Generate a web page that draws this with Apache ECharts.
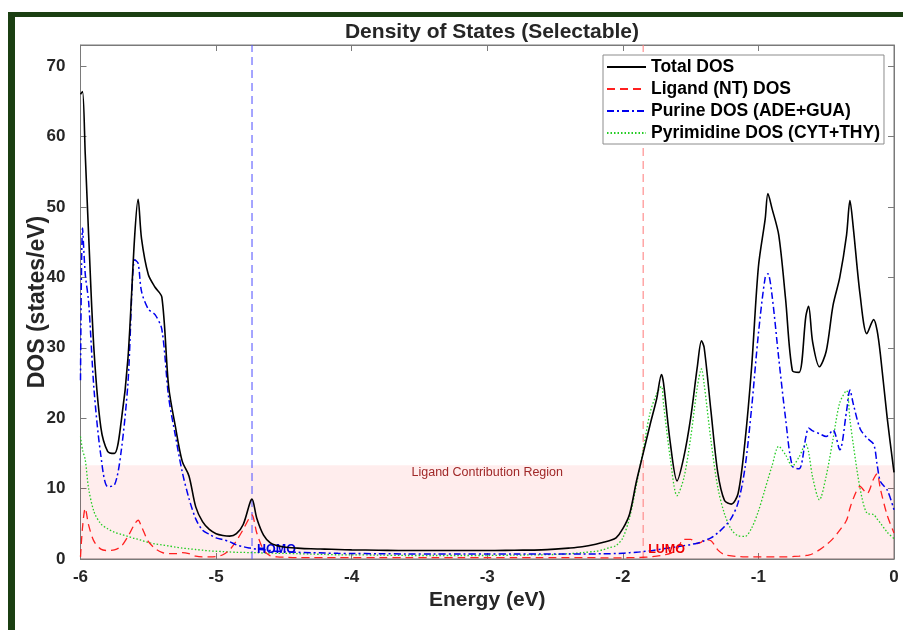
<!DOCTYPE html>
<html>
<head>
<meta charset="utf-8">
<script src="https://cdn.jsdelivr.net/npm/echarts@6/dist/echarts.min.js"></script>
<style>
  html, body { margin: 0; padding: 0; background: #ffffff; }
  #chart { width: 903px; height: 630px; }
</style>
</head>
<body>
<div id="chart"></div>
<script>
// Energy grid (eV) shared by all DOS curves
const energy = [
  -6.00, -5.985, -5.965, -5.94, -5.90, -5.85, -5.80, -5.75, -5.70, -5.65,
  -5.60, -5.575, -5.55, -5.50, -5.45, -5.40, -5.35, -5.30, -5.25, -5.20,
  -5.15, -5.10, -5.05, -5.00, -4.95, -4.90, -4.85, -4.80, -4.75, -4.735,
  -4.70, -4.65, -4.60, -4.55, -4.50, -4.40, -4.30, -4.20, -4.10, -4.00,
  -3.80, -3.60, -3.40, -3.20, -3.00, -2.80, -2.60, -2.50, -2.40, -2.30,
  -2.20, -2.15, -2.10, -2.05, -2.00, -1.95, -1.90, -1.85, -1.80, -1.75,
  -1.715, -1.70, -1.65, -1.60, -1.55, -1.50, -1.45, -1.42, -1.40, -1.35,
  -1.30, -1.25, -1.20, -1.15, -1.10, -1.05, -1.00, -0.95, -0.93, -0.90,
  -0.85, -0.80, -0.75, -0.70, -0.65, -0.63, -0.60, -0.55, -0.50, -0.45,
  -0.40, -0.35, -0.325, -0.30, -0.25, -0.20, -0.15, -0.125, -0.10, -0.05,
  0.00
];

// Total DOS (states/eV)
const totalDos = [
  66.0, 66.4, 57.5, 46.0, 29.5, 18.7, 15.3, 15.0, 19.5, 28.5,
  46.0, 51.1, 45.5, 40.4, 38.6, 37.2, 24.5, 18.8, 13.9, 11.8,
  7.4, 5.3, 4.2, 3.6, 3.35, 3.25, 3.6, 4.9, 8.0, 8.5,
  5.8, 3.4, 2.3, 1.9, 1.7, 1.55, 1.45, 1.4, 1.35, 1.3,
  1.25, 1.2, 1.2, 1.2, 1.2, 1.25, 1.3, 1.4, 1.55, 1.75,
  2.1, 2.35, 2.6, 3.0, 4.3, 6.4, 11.0, 15.0, 19.0, 22.8,
  26.2, 25.0, 16.5, 11.1, 14.5, 20.0, 27.4, 31.0, 30.0, 21.0,
  12.3, 8.3, 7.8, 9.3, 16.5, 27.3, 41.5, 48.3, 51.9, 49.8,
  46.0, 37.0, 26.8, 26.5, 34.5, 35.9, 30.8, 27.3, 29.5, 36.0,
  40.0, 46.0, 50.9, 47.0, 37.5, 32.0, 34.0, 32.5, 29.0, 20.0,
  12.3
];

// Ligand (NT) projected DOS
const ligandDos = [
  0.3, 4.5, 7.2, 4.8, 2.5, 1.4, 1.2, 1.3, 1.8, 3.2,
  5.0, 5.5, 4.6, 2.5, 1.5, 0.95, 0.75, 0.75, 0.9, 0.75,
  0.4, 0.3, 0.3, 0.35, 0.6, 1.3, 2.6, 4.2, 6.0, 6.25,
  3.7, 1.3, 0.45, 0.3, 0.25, 0.2, 0.2, 0.2, 0.2, 0.2,
  0.2, 0.2, 0.2, 0.2, 0.2, 0.2, 0.2, 0.2, 0.2, 0.2,
  0.2, 0.15, 0.15, 0.15, 0.15, 0.2, 0.2, 0.25, 0.3, 0.4,
  0.5, 0.55, 0.8, 1.4, 2.8, 2.8, 2.2, 2.4, 2.75, 2.6,
  1.3, 0.6, 0.45, 0.35, 0.3, 0.3, 0.3, 0.3, 0.3, 0.3,
  0.3, 0.3, 0.35, 0.4, 0.5, 0.55, 0.75, 1.3, 2.0, 2.9,
  4.1, 5.5, 7.2, 8.6, 10.3, 9.3, 11.4, 12.1, 9.9, 6.2,
  3.7
];

// Purine (ADE+GUA) projected DOS
const purineDos = [
  25.4, 47.0, 40.5, 36.5, 24.0, 14.7, 10.3, 10.5, 15.3, 25.0,
  42.5, 42.0, 38.0, 35.5, 34.7, 32.6, 23.0, 17.5, 12.4, 8.6,
  5.7, 4.1, 3.5, 3.0, 2.75, 2.45, 2.0, 1.75, 1.55, 1.5,
  1.4, 1.3, 1.2, 1.1, 1.05, 0.95, 0.9, 0.85, 0.8, 0.78,
  0.75, 0.72, 0.7, 0.7, 0.7, 0.7, 0.7, 0.7, 0.7, 0.7,
  0.72, 0.75, 0.75, 0.78, 0.8, 0.9, 0.95, 1.05, 1.15, 1.3,
  1.4, 1.45, 1.6, 1.75, 1.9, 2.05, 2.25, 2.4, 2.6, 3.0,
  3.7, 4.6, 5.8, 8.0, 12.8, 21.5, 32.0, 40.0, 40.5, 37.5,
  28.5, 20.0, 13.2, 12.8, 17.3, 18.6, 18.2, 17.8, 17.4, 18.3,
  15.5, 21.0, 24.0, 22.0, 18.5, 17.2, 16.3, 13.5, 11.0, 9.8,
  7.0
];

// Pyrimidine (CYT+THY) projected DOS
const pyrimidineDos = [
  17.4, 15.5, 14.1, 10.0, 6.7, 5.0, 4.3, 3.8, 3.5, 3.2,
  2.9, 2.8, 2.65, 2.35, 2.15, 2.0, 1.85, 1.7, 1.55, 1.45,
  1.35, 1.25, 1.15, 1.1, 1.05, 1.0, 0.95, 0.95, 0.9, 0.9,
  0.9, 0.85, 0.85, 0.8, 0.8, 0.75, 0.7, 0.65, 0.6, 0.6,
  0.55, 0.5, 0.5, 0.5, 0.5, 0.55, 0.6, 0.65, 0.75, 0.9,
  1.1, 1.3, 1.6, 1.9, 3.0, 5.9, 10.5, 15.5, 20.7, 23.5,
  24.5, 22.0, 14.3, 9.0, 11.5, 17.2, 24.5, 27.0, 24.8, 16.8,
  10.2, 6.4, 4.2, 3.3, 3.2, 4.4, 6.8, 10.0, 11.3, 13.2,
  16.0, 14.8, 13.2, 14.5, 16.3, 15.2, 11.6, 8.4, 11.8, 17.0,
  22.2, 23.9, 19.8, 16.2, 10.0, 6.5, 6.3, 5.7, 5.1, 3.8,
  2.9
];

const homoEnergy = -4.735;
const lumoEnergy = -1.85;
const ligandBandTop = 13.3;
const xRange = [-6, 0];
const yRange = [0, 73];

const seriesNames = [
  'Total DOS',
  'Ligand (NT) DOS',
  'Purine DOS (ADE+GUA)',
  'Pyrimidine DOS (CYT+THY)'
];

const FONT = "'Liberation Sans', Arial, Helvetica, sans-serif";

function toPairs(values) {
  return energy.map((e, i) => [e, values[i]]);
}

function curve(name, values, color, width, dash, z) {
  return {
    name: name,
    type: 'line',
    data: toPairs(values),
    showSymbol: false,
    symbol: 'none',
    smooth: 0.3,
    z: z,
    lineStyle: { color: color, width: width, type: dash },
    itemStyle: { color: color },
    emphasis: { disabled: true }
  };
}

// vertical dashed marker at a band edge, spanning the full y range,
// with its bold tag placed just right of the line near the baseline
function edgeMarker(energyValue, lineColor, tag, tagColor) {
  return {
    name: tag,
    type: 'line',
    data: [[energyValue, yRange[0]], [energyValue, yRange[1]]],
    showSymbol: false,
    symbol: 'none',
    z: 2,
    silent: true,
    emphasis: { disabled: true },
    lineStyle: { color: lineColor, width: 1.1, type: [8, 5] },
    itemStyle: { color: lineColor },
    markPoint: {
      silent: true,
      symbol: 'circle',
      symbolSize: 0,
      data: [{
        coord: [energyValue, 1.4],
        label: {
          show: true, position: 'right', distance: 5, formatter: tag,
          fontFamily: FONT, fontWeight: 'bold', fontSize: 12.5, color: tagColor
        }
      }]
    }
  };
}

const chart = echarts.init(document.getElementById('chart'), null, { renderer: 'canvas' });

const axisGray = '#7a7a7a';
const labelColor = '#262626';

chart.setOption({
  animation: false,
  backgroundColor: '#ffffff',
  title: {
    text: 'Density of States (Selectable)',
    left: 487,
    top: 17,
    textAlign: 'center',
    textStyle: { fontFamily: FONT, fontWeight: 'bold', fontSize: 21, color: labelColor }
  },
  graphic: [
    { type: 'rect', shape: { x: 8, y: 12, width: 895, height: 5 }, style: { fill: '#1b3f12' }, z: 100 },
    { type: 'rect', shape: { x: 8, y: 12, width: 7, height: 618 }, style: { fill: '#1b3f12' }, z: 100 }
  ],
  legend: {
    data: seriesNames,
    orient: 'vertical',
    left: 603,
    top: 55,
    itemWidth: 39,
    itemHeight: 14,
    itemGap: 4,
    padding: [3, 4, 2, 3],
    backgroundColor: '#ffffff',
    borderColor: '#8c8c8c',
    borderWidth: 1,
    borderRadius: 0,
    itemStyle: { opacity: 0 },
    textStyle: { fontFamily: FONT, fontWeight: 'bold', fontSize: 17.5, color: '#000000', lineHeight: 17 },
    selectedMode: false
  },
  grid: {
    left: 80.5,
    right: 9,
    top: 45,
    bottom: 71,
    show: true,
    borderColor: axisGray,
    borderWidth: 1,
    backgroundColor: 'transparent'
  },
  xAxis: [
    {
      type: 'value',
      min: xRange[0],
      max: xRange[1],
      interval: 1,
      name: 'Energy (eV)',
      nameLocation: 'middle',
      nameGap: 31,
      nameMoveOverlap: false,
      nameTextStyle: { fontFamily: FONT, fontWeight: 'bold', fontSize: 21, color: labelColor },
      axisLine: { show: true, onZero: false, lineStyle: { color: axisGray, width: 1 } },
      axisTick: { show: true, inside: true, length: 6, lineStyle: { color: axisGray } },
      axisLabel: { fontFamily: FONT, fontWeight: 'bold', fontSize: 17, color: labelColor, margin: 10 },
      splitLine: { show: false }
    },
    {
      type: 'value',
      position: 'top',
      min: xRange[0],
      max: xRange[1],
      interval: 1,
      axisLine: { show: true, onZero: false, lineStyle: { color: axisGray, width: 1 } },
      axisTick: { show: true, inside: true, length: 6, lineStyle: { color: axisGray } },
      axisLabel: { show: false },
      splitLine: { show: false }
    }
  ],
  yAxis: [
    {
      type: 'value',
      min: yRange[0],
      max: yRange[1],
      interval: 10,
      name: 'DOS (states/eV)',
      nameLocation: 'middle',
      nameGap: 31,
      nameMoveOverlap: false,
      nameTextStyle: { fontFamily: FONT, fontWeight: 'bold', fontSize: 23, color: labelColor },
      axisLine: { show: true, onZero: false, lineStyle: { color: axisGray, width: 1 } },
      axisTick: { show: true, inside: true, length: 6, lineStyle: { color: axisGray } },
      axisLabel: {
        fontFamily: FONT, fontWeight: 'bold', fontSize: 17, color: labelColor, margin: 15,
        showMaxLabel: false,
        formatter: v => (v % 10 === 0 ? String(v) : '')
      },
      splitLine: { show: false }
    },
    {
      type: 'value',
      position: 'right',
      min: yRange[0],
      max: yRange[1],
      interval: 10,
      axisLine: { show: true, onZero: false, lineStyle: { color: axisGray, width: 1 } },
      axisTick: { show: true, inside: true, length: 6, lineStyle: { color: axisGray } },
      axisLabel: { show: false },
      splitLine: { show: false }
    }
  ],
  series: [
    {
      // shaded band where the ligand contribution lies
      name: 'band',
      type: 'line',
      data: [],
      z: 1,
      silent: true,
      markArea: {
        silent: true,
        itemStyle: { color: 'rgba(255, 0, 0, 0.07)' },
        label: {
          show: true,
          position: 'insideTop',
          distance: 1,
          formatter: 'Ligand Contribution Region',
          fontFamily: FONT,
          fontSize: 12.5,
          color: '#a02828'
        },
        data: [[{ xAxis: xRange[0], yAxis: 0 }, { xAxis: xRange[1], yAxis: ligandBandTop }]]
      }
    },
    edgeMarker(homoEnergy, '#5c5cff', 'HOMO', '#0000dd'),
    edgeMarker(lumoEnergy, '#ff8585', 'LUMO', '#ee0000'),
    curve(seriesNames[0], totalDos, '#000000', 1.6, 'solid', 5),
    curve(seriesNames[1], ligandDos, '#ff2020', 1.3, [8, 5], 4),
    curve(seriesNames[2], purineDos, '#0000ee', 1.5, [7, 3, 2, 3], 4),
    curve(seriesNames[3], pyrimidineDos, '#22cc22', 1.3, [1.5, 2], 3)
  ]
});
</script>
</body>
</html>
